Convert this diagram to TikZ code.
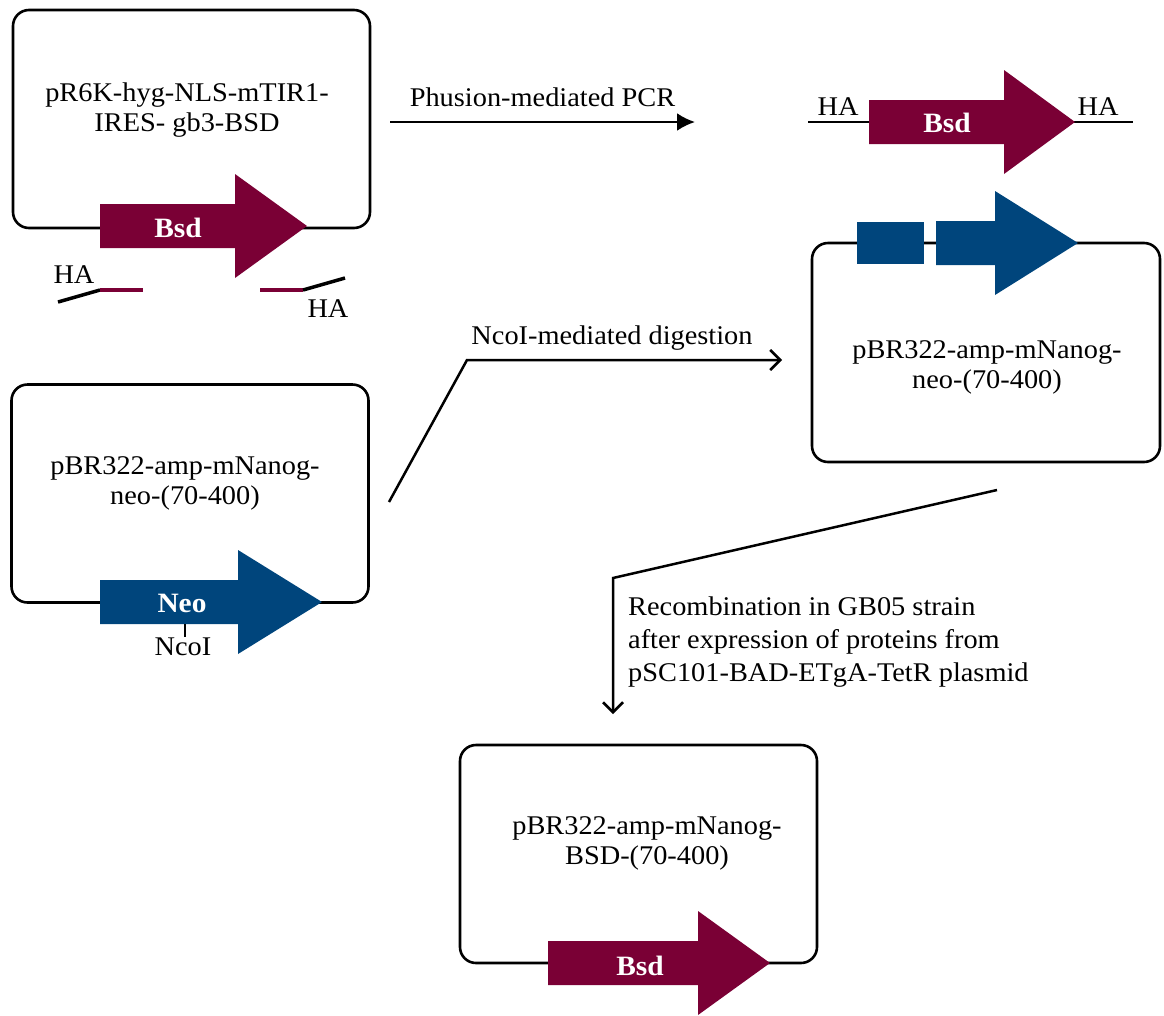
\documentclass[tikz,border=0pt]{standalone}
\usepackage{fontspec}
\setmainfont{Liberation Serif}[FakeStretch=1.05]
\usetikzlibrary{arrows.meta,positioning}
\definecolor{bsdred}{HTML}{7A0035}
\definecolor{neoblue}{HTML}{00457C}
% gene arrow: tail x, head base x, tip x, centre y, colour
\newcommand{\genearrow}[5]{%
  \fill[#5] (#1,#4-22) -- (#2,#4-22) -- (#2,#4-52) -- (#3,#4)
    -- (#2,#4+52) -- (#2,#4+22) -- (#1,#4+22) -- cycle;}

\begin{document}
\begin{tikzpicture}[
  x=1pt, y=-1pt,
  font=\fontsize{27}{30}\selectfont,
  plasmid/.style={draw, line width=2.6pt, rounded corners=16pt, inner sep=0pt,
    minimum width=357pt, minimum height=218pt},
  genename/.style={text=white, font=\bfseries\fontsize{28}{30}\selectfont, inner sep=0pt},
  lab/.style={align=center, inner sep=0pt},
  ha/.style={line width=3.5pt},
  pcr/.style={-{Latex[length=18pt,width=18pt]}, line width=2.5pt},
  flow/.style={-{Straight Barb[length=10pt,width=20pt]}, line width=2.5pt, line join=miter},
]
  \useasboundingbox (0,0) rectangle (1164,1015);
  % donor plasmid
  \node[plasmid] (donor) at (191.5,119) {};
  \node[lab] (donorname) at (187,110) {pR6K-hyg-NLS-mTIR1-\\IRES- gb3-BSD};
  \genearrow{100}{235}{307}{226}{bsdred}
  \node[genename] (bsdone) at (178,228) {Bsd};
  % primers with homology arms
  \draw[ha] (58,302) -- (100,290);
  \draw[ha, bsdred] (100,290) -- (143,290);
  \draw[ha, bsdred] (260,290) -- (303,290);
  \draw[ha] (303,290) -- (345,278);
  \node[lab] (haleft) at (74,275) {HA};
  \node[lab] (haright) at (328,309) {HA};
  % PCR product
  \coordinate (pcr start) at (390,122);
  \coordinate (pcr end) at (695,122);
  \draw[pcr] (pcr start) -- node[lab, above=14pt]{Phusion-mediated PCR} (pcr end);
  \draw[line width=2.5pt] (808,122) -- (1133,122);
  \genearrow{869}{1004}{1075}{122}{bsdred}
  \node[genename] (bsdtwo) at (947,123) {Bsd};
  \node[lab] (hathree) at (838,107) {HA};
  \node[lab] (hafour) at (1098,107) {HA};
  % target plasmid
  \node[plasmid] (target) at (190,493.5) {};
  \node[lab] (targetname) at (185,483) {pBR322-amp-mNanog-\\neo-(70-400)};
  \genearrow{100}{238}{322}{602}{neoblue}
  \node[genename] (neo) at (182,603) {Neo};
  \draw[line width=2pt] (185,624) -- (185,637);
  \node[lab] (ncoi) at (183,647) {NcoI};
  % digestion
  \coordinate (cut start) at (389,502);
  \coordinate (cut bend) at (467,360);
  \coordinate (cut end) at (782,360);
  \draw[flow] (cut start) -- (cut bend) -- (cut end);
  \node[lab] (cutlabel) at (612,338) {NcoI-mediated digestion};
  % linearised plasmid
  \node[plasmid, minimum width=348pt, minimum height=219pt] (linear) at (986,352.5) {};
  \node[lab] (linearname) at (987,367) {pBR322-amp-mNanog-\\neo-(70-400)};
  \fill[neoblue] (857,222) rectangle (924,264);
  \genearrow{936}{995}{1078}{243}{neoblue}
  % recombination
  \coordinate (rec start) at (997,490);
  \coordinate (rec bend) at (613,578);
  \coordinate (rec end) at (613,714);
  \draw[flow] (rec start) -- (rec bend) -- (rec end);
  \node[lab, anchor=west, align=left, font=\fontsize{27}{33}\selectfont] (reclabel) at (628,642)
    {Recombination in GB05 strain\\after expression of proteins from\\pSC101-BAD-ETgA-TetR plasmid};
  % final plasmid
  \node[plasmid] (final) at (638.5,854) {};
  \node[lab] (finalname) at (647,843) {pBR322-amp-mNanog-\\BSD-(70-400)};
  \genearrow{548}{698}{770}{963}{bsdred}
  \node[genename] (bsdthree) at (640,966) {Bsd};
\end{tikzpicture}
\end{document}
